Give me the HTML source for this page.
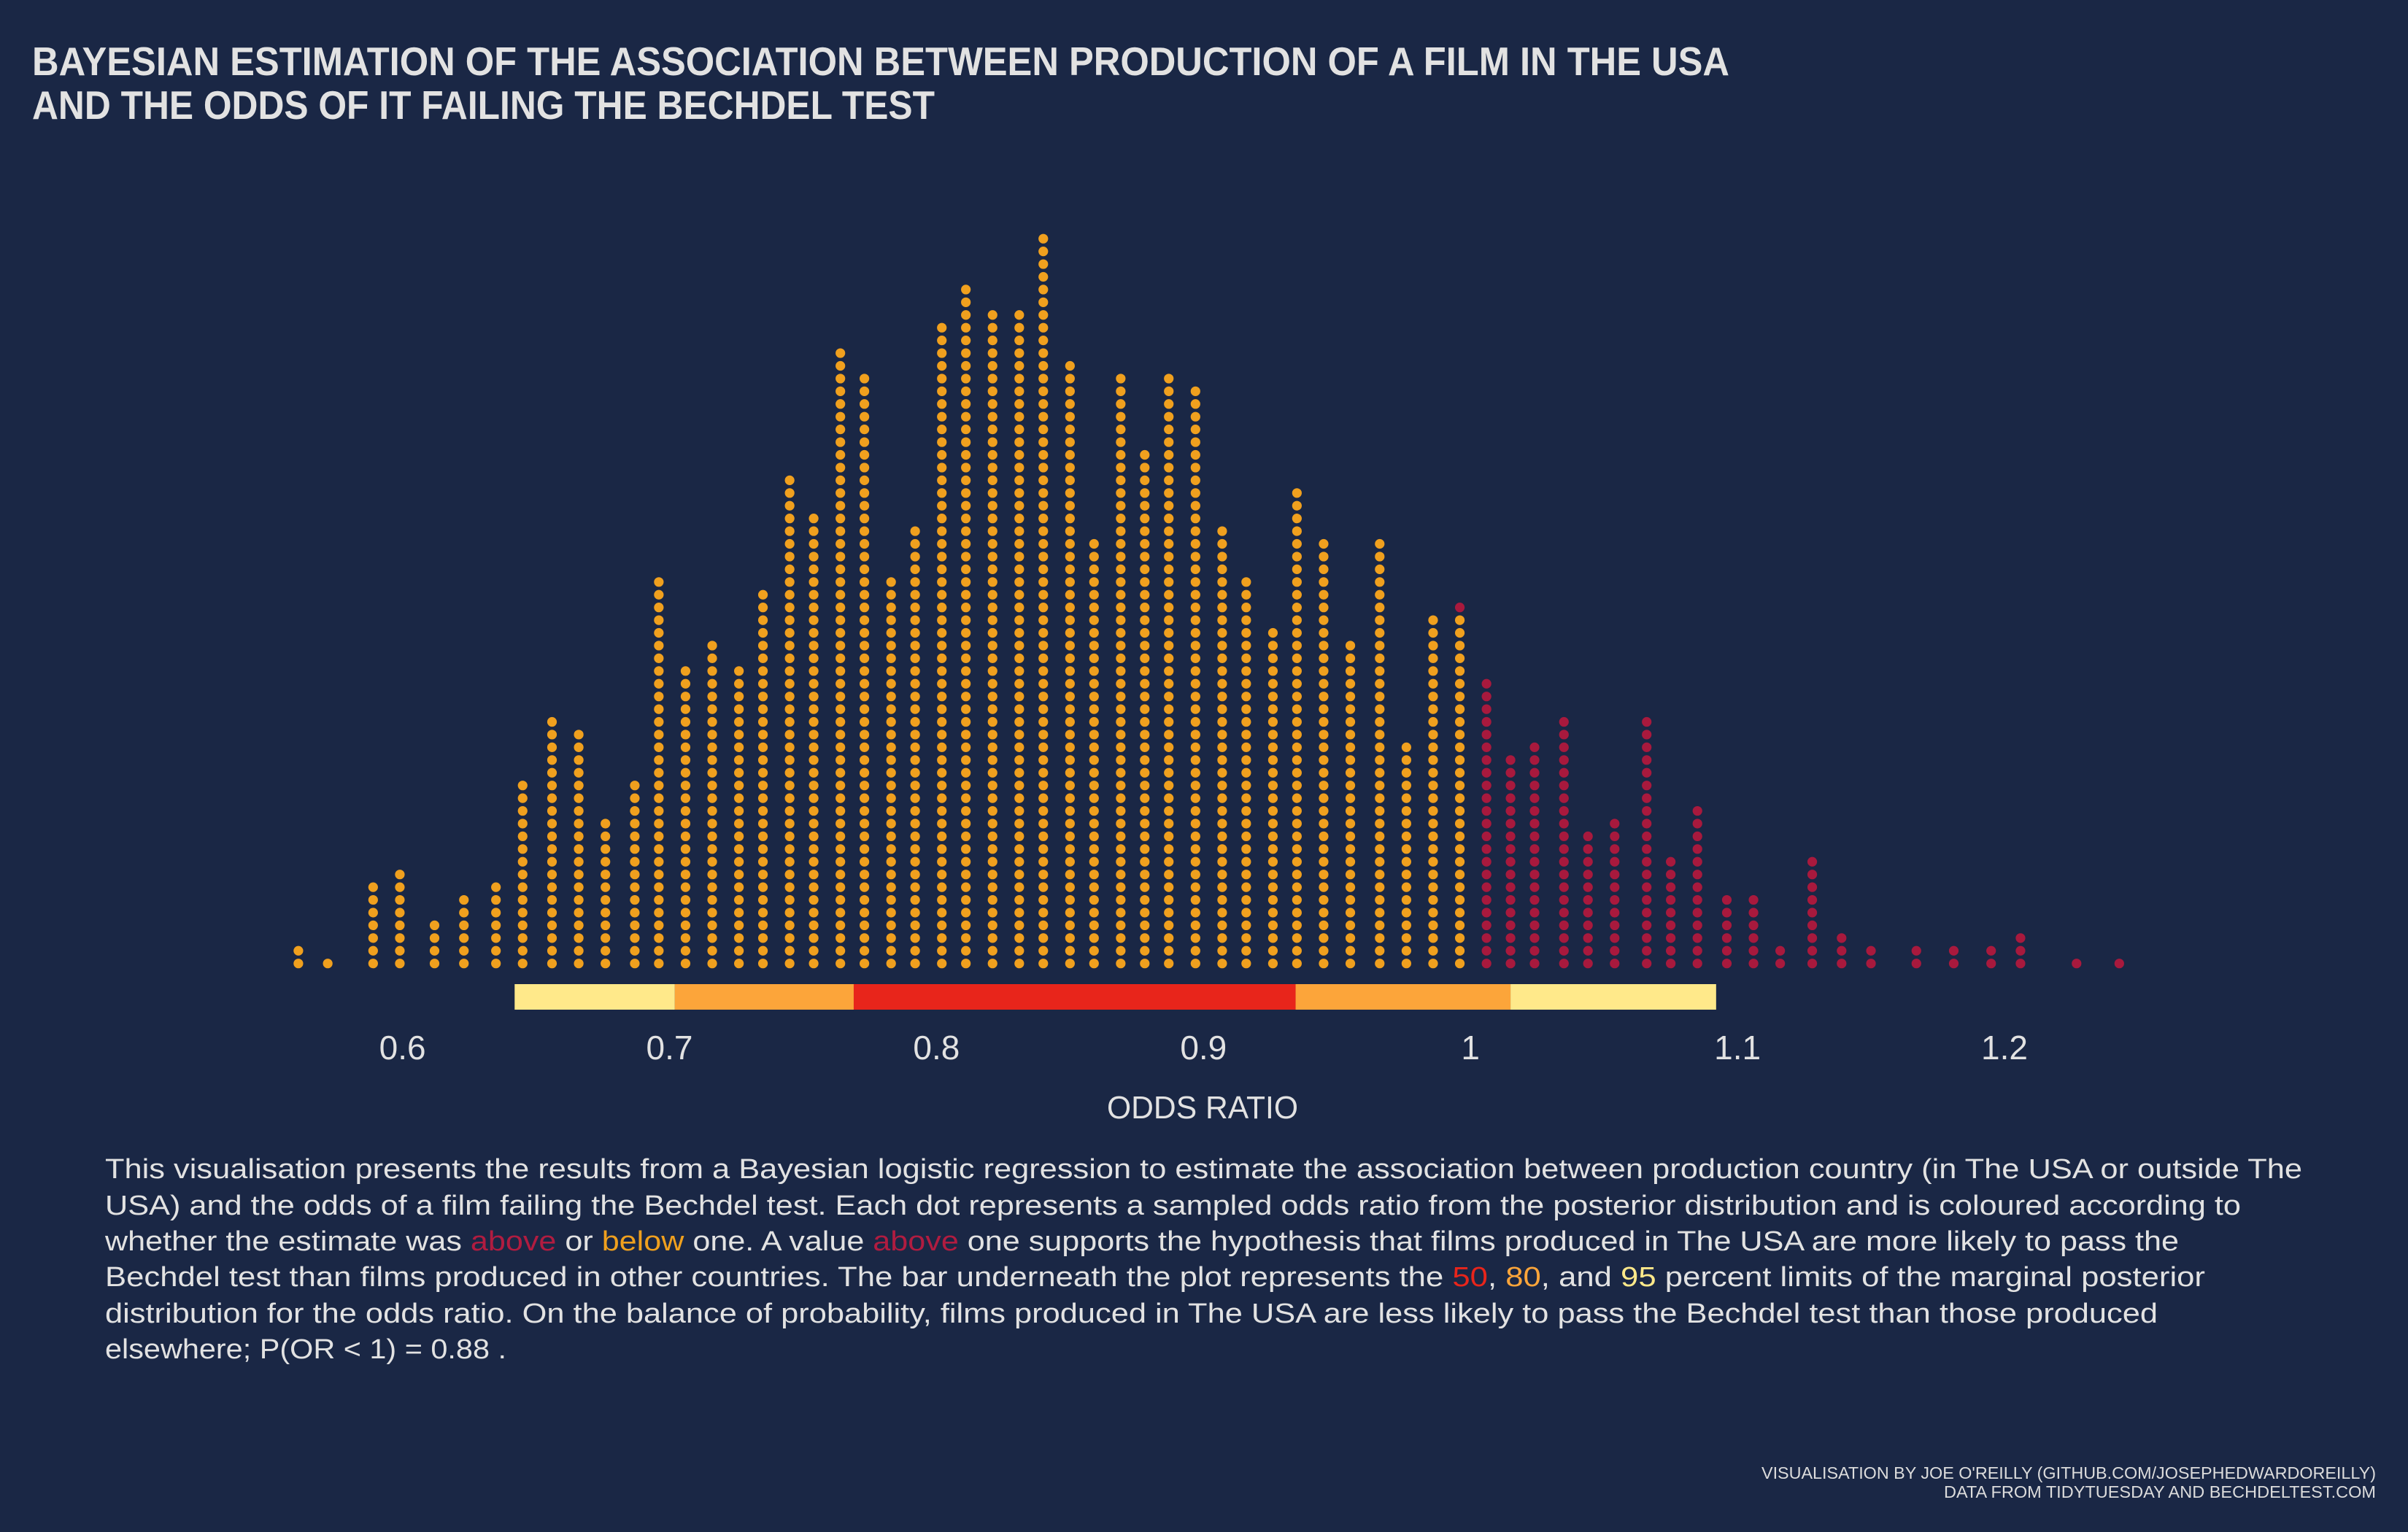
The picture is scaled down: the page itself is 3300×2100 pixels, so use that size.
<!DOCTYPE html>
<html><head><meta charset="utf-8"><style>
html,body{margin:0;padding:0;background:#1a2745;}
svg{display:block;}
text{font-family:"Liberation Sans",sans-serif;}
</style></head><body>
<svg id="chart" width="3300" height="2100" viewBox="0 0 3300 2100" xmlns="http://www.w3.org/2000/svg">
<rect x="0" y="0" width="3300" height="2100" fill="#1a2745"/>
<g fill="#e2e2e2" font-weight="bold" font-size="55">
<text x="44" y="103" textLength="2326" lengthAdjust="spacingAndGlyphs">BAYESIAN ESTIMATION OF THE ASSOCIATION BETWEEN PRODUCTION OF A FILM IN THE USA</text>
<text x="44" y="163" textLength="1237" lengthAdjust="spacingAndGlyphs">AND THE ODDS OF IT FAILING THE BECHDEL TEST</text>
</g>
<g id="dots"></g>
<g id="bar"></g>
<g id="ticks" fill="#e2e2e2" font-size="46" text-anchor="middle"></g>
<text x="1648" y="1533" fill="#e2e2e2" font-size="44" text-anchor="middle" textLength="262" lengthAdjust="spacingAndGlyphs">ODDS RATIO</text>
<g fill="#e2e2e2" font-size="38">
<text x="144" y="1615" textLength="3011" lengthAdjust="spacingAndGlyphs">This visualisation presents the results from a Bayesian logistic regression to estimate the association between production country (in The USA or outside The</text>
<text x="144" y="1665" textLength="2927" lengthAdjust="spacingAndGlyphs">USA) and the odds of a film failing the Bechdel test. Each dot represents a sampled odds ratio from the posterior distribution and is coloured according to</text>
<text x="144" y="1714" textLength="2842" lengthAdjust="spacingAndGlyphs">whether the estimate was <tspan fill="#b01c40">above</tspan> or <tspan fill="#f0a01e">below</tspan> one. A value <tspan fill="#b01c40">above</tspan> one supports the hypothesis that films produced in The USA are more likely to pass the</text>
<text x="144" y="1763" textLength="2878" lengthAdjust="spacingAndGlyphs">Bechdel test than films produced in other countries. The bar underneath the plot represents the <tspan fill="#e8251b">50</tspan>, <tspan fill="#fca53a">80</tspan>, and <tspan fill="#ffe98a">95</tspan> percent limits of the marginal posterior</text>
<text x="144" y="1813" textLength="2813" lengthAdjust="spacingAndGlyphs">distribution for the odds ratio. On the balance of probability, films produced in The USA are less likely to pass the Bechdel test than those produced</text>
<text x="144" y="1862" textLength="550" lengthAdjust="spacingAndGlyphs">elsewhere; P(OR &lt; 1) = 0.88 .</text>
</g>
<g fill="#dcdcdc" font-size="23" text-anchor="end">
<text x="3256" y="2027" textLength="842" lengthAdjust="spacingAndGlyphs">VISUALISATION BY JOE O'REILLY (GITHUB.COM/JOSEPHEDWARDOREILLY)</text>
<text x="3256" y="2053" textLength="592" lengthAdjust="spacingAndGlyphs">DATA FROM TIDYTUESDAY AND BECHDELTEST.COM</text>
</g>
</svg>
<script>
const binCenters = [0.561,0.572,0.589,0.599,0.612,0.623,0.635,0.645,0.656,0.666,0.676,0.687,0.696,0.706,0.716,0.726,0.735,0.745,0.754,0.764,0.773,0.783,
0.792,0.802,0.811,0.821,0.831,0.840,0.850,0.859,0.869,0.878,0.887,0.897,0.907,0.916,0.926,0.935,0.945,0.955,0.966,0.976,0.986,0.996,1.006,1.015,
1.024,1.035,1.044,1.054,1.066,1.075,1.085,1.096,1.106,1.116,1.128,1.139,1.150,1.167,1.181,1.195,1.206,1.227,1.243];
const dotCounts = [2,1,7,8,4,6,7,15,20,19,12,15,31,24,26,24,30,39,36,49,47,31,
35,51,54,52,52,58,48,34,47,41,47,46,35,31,27,38,34,26,34,18,28,29,23,17,
18,20,11,12,20,9,13,6,6,2,9,3,2,2,2,2,3,1,1];
const aboveOneCounts = [0,0,0,0,0,0,0,0,0,0,0,0,0,0,0,0,0,0,0,0,0,0,
0,0,0,0,0,0,0,0,0,0,0,0,0,0,0,0,0,0,0,0,0,1,23,17,
18,20,11,12,20,9,13,6,6,2,9,3,2,2,2,2,3,1,1];
const intervalBreaks = [0.642,0.702,0.769,0.9345,1.015,1.092];
const intervalLevels = ["95","80","50","80","95"];
const tickValues = [0.6,0.7,0.8,0.9,1.0,1.1,1.2];
const tickLabels = ["0.6","0.7","0.8","0.9","1","1.1","1.2"];

const NS = "http://www.w3.org/2000/svg";
function xScale(v){ return 551.6 + (v - 0.6) * 3659; }
function yScale(i){ return 1320.7 - i * 17.43; }
const levelColor = {"50":"#e8251b","80":"#fca53a","95":"#ffe98a"};

const dotsG = document.getElementById('dots');
binCenters.forEach((c, k) => {
  const n = dotCounts[k];
  const red = aboveOneCounts[k];
  for (let i = 0; i < n; i++) {
    const e = document.createElementNS(NS, 'circle');
    
    
    e.setAttribute('cx', xScale(c));
    e.setAttribute('cy', yScale(i));
    e.setAttribute('r', 6.6);
    e.setAttribute('fill', i >= n - red ? '#a8193d' : '#f0a01e');
    dotsG.appendChild(e);
  }
});

const barG = document.getElementById('bar');
for (let k = 0; k < intervalLevels.length; k++) {
  const x0 = xScale(intervalBreaks[k]), x1 = xScale(intervalBreaks[k+1]);
  const r = document.createElementNS(NS, 'rect');
  
  
  r.setAttribute('x', x0);
  r.setAttribute('y', 1349);
  r.setAttribute('width', x1 - x0);
  r.setAttribute('height', 35);
  r.setAttribute('fill', levelColor[intervalLevels[k]]);
  barG.appendChild(r);
}

const ticksG = document.getElementById('ticks');
tickValues.forEach((v, k) => {
  const t = document.createElementNS(NS, 'text');
  
  
  t.setAttribute('x', xScale(v));
  t.setAttribute('y', 1452);
  t.textContent = tickLabels[k];
  ticksG.appendChild(t);
});
</script>
</body></html>
